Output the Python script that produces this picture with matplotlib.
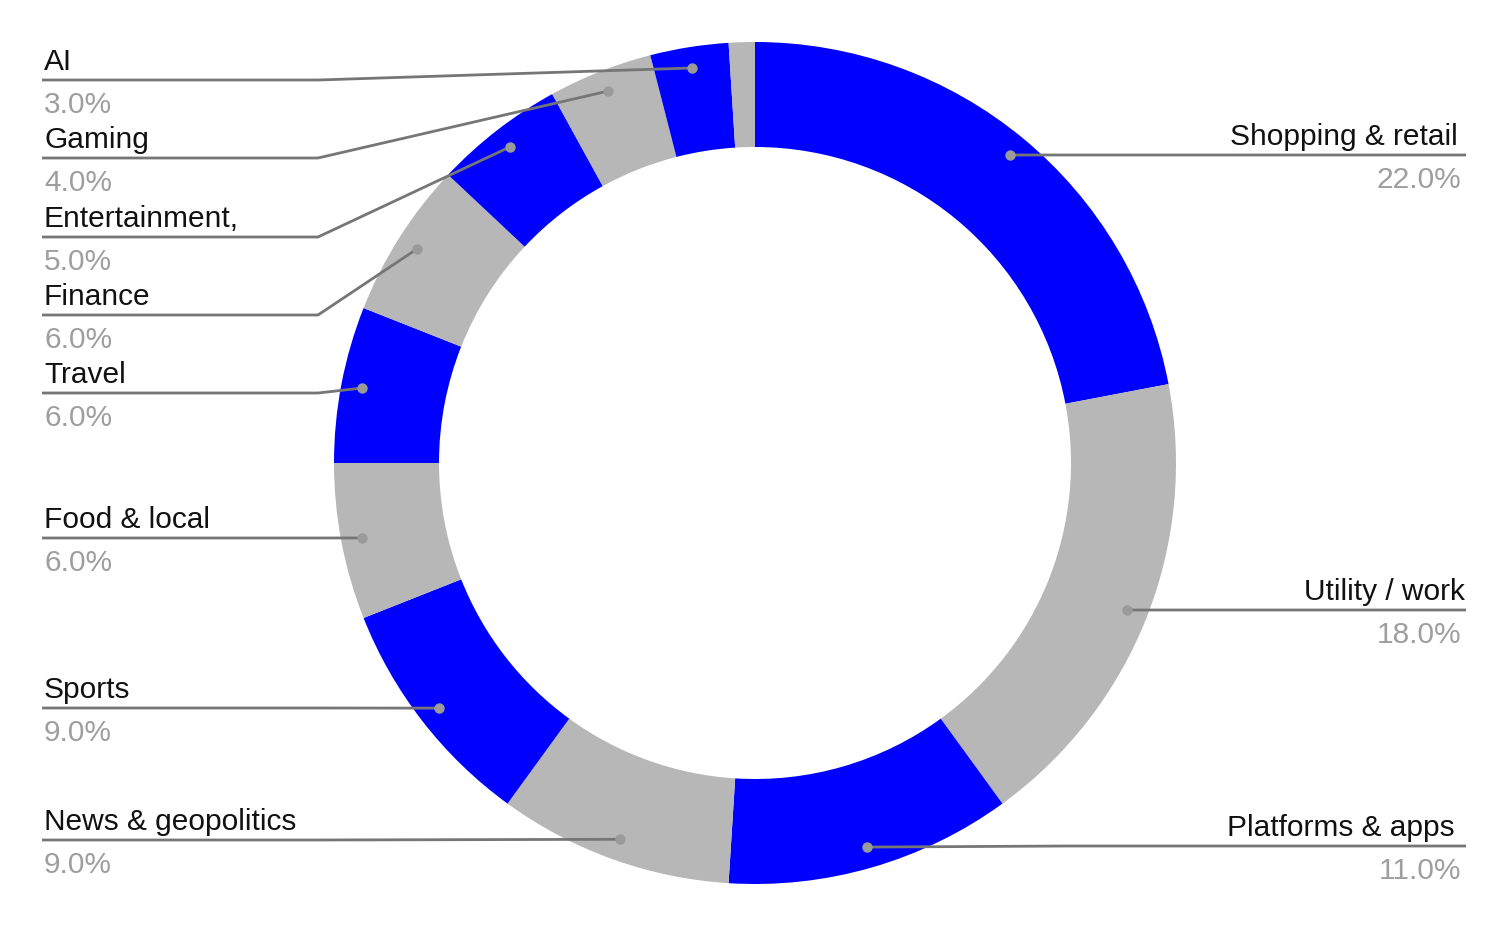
import matplotlib
matplotlib.use("Agg")
import matplotlib.pyplot as plt
import numpy as np

# ---- data ----
categories = ["Shopping & retail", "Utility / work", "Platforms & apps",
              "News & geopolitics", "Sports", "Food & local", "Travel",
              "Finance", "Entertainment,", "Gaming", "AI", "Other"]
values = [22, 18, 11, 9, 9, 6, 6, 6, 5, 4, 3, 1]
slice_colors = ["#0000ff", "#b7b7b7", "#0000ff", "#b7b7b7", "#0000ff", "#b7b7b7",
                "#0000ff", "#b7b7b7", "#0000ff", "#b7b7b7", "#0000ff", "#b7b7b7"]

# ---- layout (pixel positions of label leader lines) ----
W, H = 1507, 926
label_layout = {
    # category: (side, line y in px from top, bend x, text right edge for right side)
    "Shopping & retail": ("R", 155, 1010, 1458),
    "Utility / work": ("R", 610, 1127, 1465),
    "Platforms & apps": ("R", 846, 1068, 1455),
    "News & geopolitics": ("L", 840, 318, None),
    "Sports": ("L", 708, 318, None),
    "Food & local": ("L", 538, 318, None),
    "Travel": ("L", 393, 318, None),
    "Finance": ("L", 315, 318, None),
    "Entertainment,": ("L", 237, 318, None),
    "Gaming": ("L", 158, 318, None),
    "AI": ("L", 80, 318, None),
}

plt.rcParams['font.family'] = ['Liberation Sans', 'DejaVu Sans']

fig = plt.figure(figsize=(W / 100, H / 100), dpi=100)
ax = fig.add_axes([0, 0, 1, 1])
cx, cy = 755, H - 463
R = 421
inner = 316
wedges, _ = ax.pie(values, colors=slice_colors, startangle=90, counterclock=False,
                   center=(cx, cy), radius=R,
                   wedgeprops=dict(width=R - inner, linewidth=0))
ax.set_xlim(0, W)
ax.set_ylim(0, H)
ax.set_aspect('auto')
ax.axis('off')

total = sum(values)
line_color = "#767676"
for w, cat, v in zip(wedges, categories, values):
    if cat not in label_layout:
        continue
    side, ly_px, bx, rx = label_layout[cat]
    ang = np.deg2rad((w.theta1 + w.theta2) / 2)
    px = cx + 0.95 * R * np.cos(ang)
    py = cy + 0.95 * R * np.sin(ang)
    ly = H - ly_px
    pct = f"{v / total * 100:.1f}%"
    if side == "L":
        xs = [42, bx, px]
        ys = [ly, ly, py]
        ax.text(44, ly + 10, cat, ha="left", va="baseline", fontsize=21.5, color="#111111")
        ax.text(44, ly - 33, pct, ha="left", va="baseline", fontsize=21.5, color="#9e9e9e")
    else:
        xs = [px, bx, 1466]
        ys = [py, ly, ly]
        ax.text(rx, ly + 10, cat, ha="right", va="baseline", fontsize=21.5, color="#111111")
        ax.text(1461, ly - 33, pct, ha="right", va="baseline", fontsize=21.5, color="#9e9e9e")
    ax.plot(xs, ys, color=line_color, lw=2.0, solid_capstyle="butt", zorder=3)
    ax.plot([px], [py], marker="o", markersize=7.5, color="#9a9a9a",
            markeredgewidth=0, zorder=4)

fig.savefig("out.png", dpi=100)
